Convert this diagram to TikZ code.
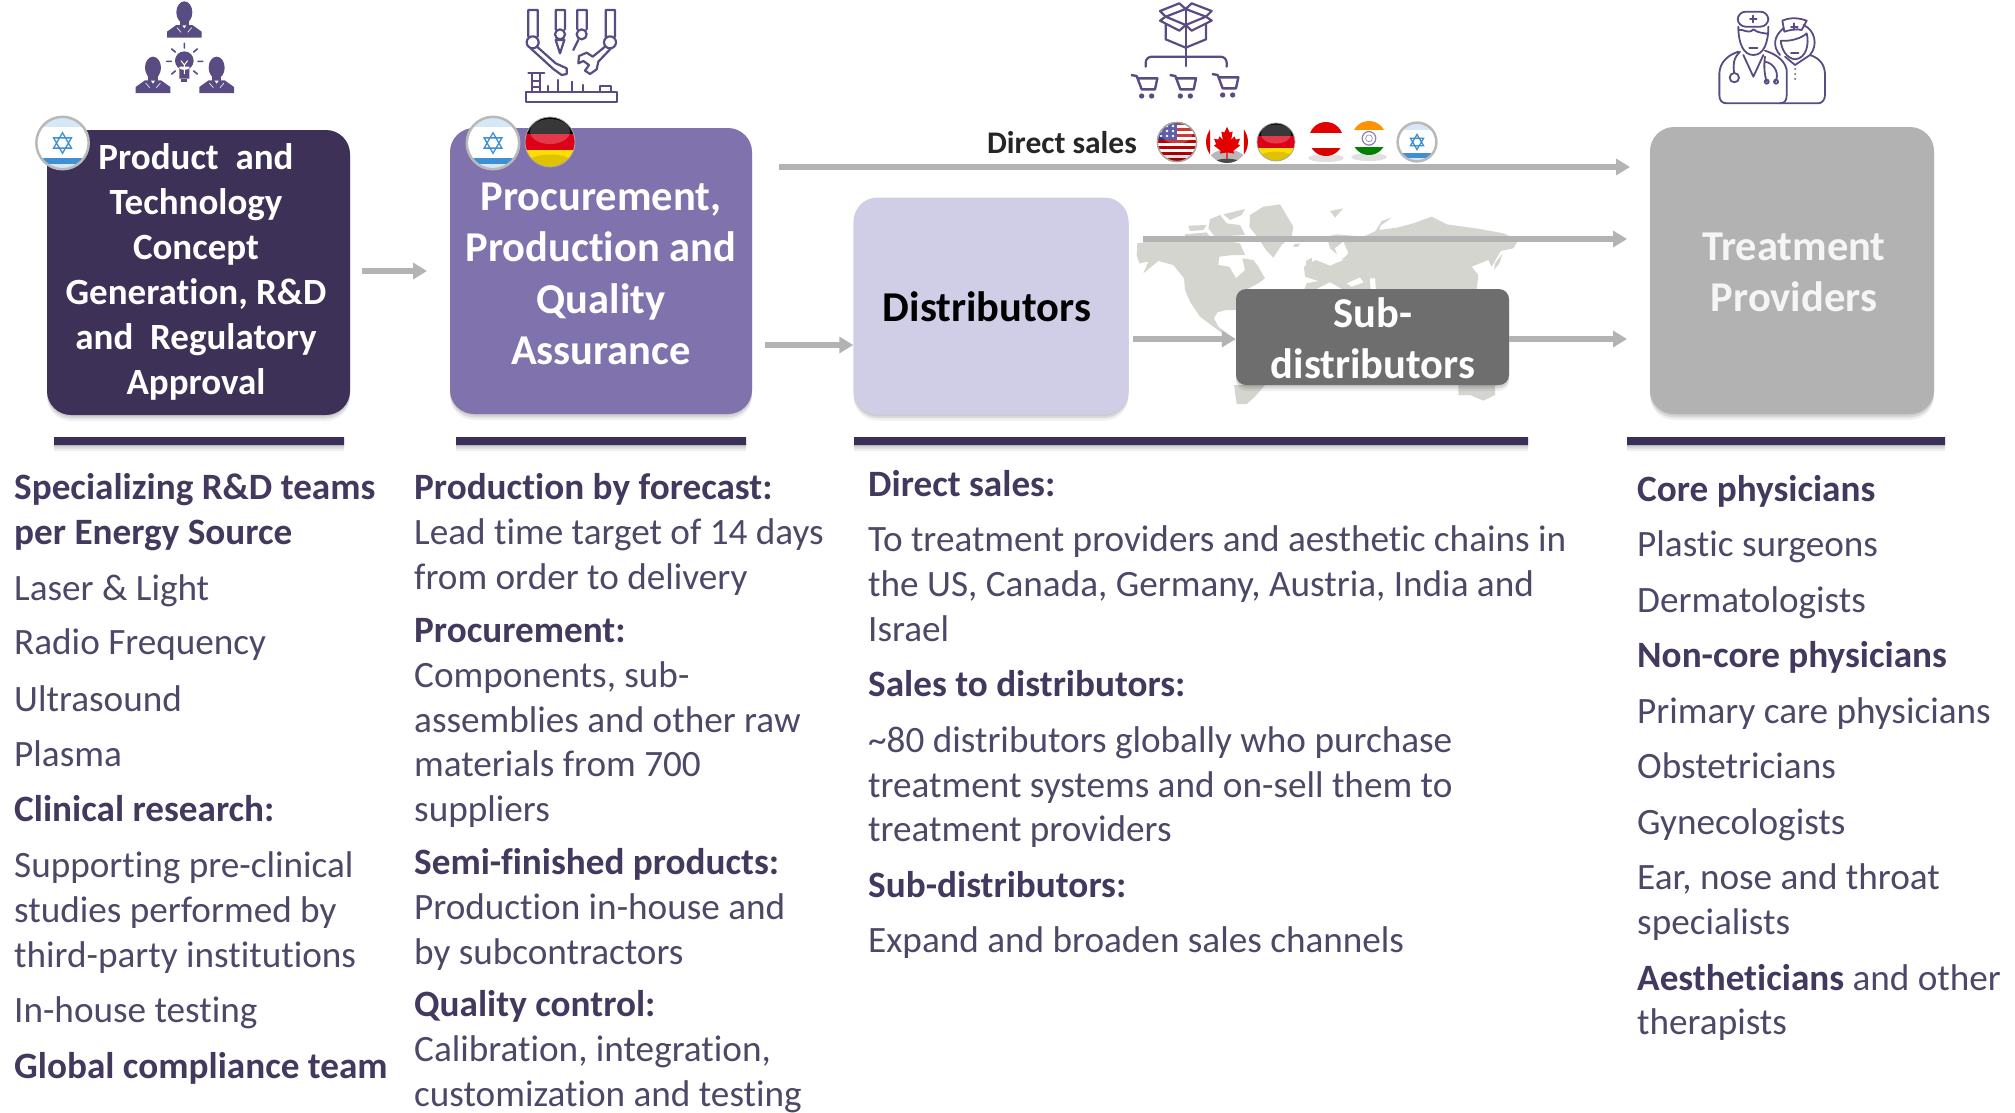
\documentclass[tikz,border=0pt]{standalone}
\usepackage{fontspec}
\setmainfont[Ligatures={NoCommon,TeX}]{Carlito}
\usetikzlibrary{arrows.meta,shadows}
\definecolor{boxa}{HTML}{3E3157}
\definecolor{boxb}{HTML}{8073AD}
\definecolor{boxc}{HTML}{D0CDE6}
\definecolor{boxd}{HTML}{6E6E6E}
\definecolor{boxe}{HTML}{B2B2B2}
\definecolor{barc}{HTML}{3A2F5B}
\definecolor{headc}{HTML}{43395F}
\definecolor{bodyc}{HTML}{4D4868}
\definecolor{iconc}{HTML}{584C82}
\definecolor{mapc}{HTML}{D5D5D0}
\definecolor{arrc}{HTML}{B3B3B3}
\definecolor{ilblue}{HTML}{3F8FD2}
\definecolor{ilpale}{HTML}{D6E8F7}
\newcounter{tl}
\newcommand\tl[3]{\stepcounter{tl}\node[txt] (t\arabic{tl}) at (#1,#2) {#3};}
\newcommand\hd[1]{\textbf{\color{headc}#1}}
\newcommand\gloss{\fill[white,opacity=.22] (0,-.42) ellipse [x radius=.8,y radius=.5];\fill[black,opacity=.12] (0,.85) ellipse [x radius=.9,y radius=.35];}
\newcommand\FlagIL[3]{\begin{scope}[shift={(#1,#2)},x=#3pt,y=-#3pt]
\fill[white] (0,0) circle [radius=1];
\begin{scope}\clip (0,0) circle [radius=1];
\fill[ilpale] (-1,-1) rectangle (1,-.58);
\fill[ilblue] (-1,.55) rectangle (1,.78);
\fill[ilpale] (-1,.78) rectangle (1,1);
\end{scope}
\draw[ilblue,line width=1.3pt] (0,-.38) -- (.33,.19) -- (-.33,.19) -- cycle (0,.38) -- (.33,-.19) -- (-.33,-.19) -- cycle;
\draw[gray!55,line width=2.5pt] (0,0) circle [radius=.97];
\end{scope}}
\newcommand\FlagDE[3]{\begin{scope}[shift={(#1,#2)},x=#3pt,y=-#3pt]
\begin{scope}\clip (0,0) circle [radius=1];
\fill[black] (-1,-1) rectangle (1,-.33);
\fill[red!85!black!90!magenta] (-1,-.33) rectangle (1,.33);
\fill[yellow!80!orange] (-1,.33) rectangle (1,1);
\gloss
\end{scope}
\draw[gray!70,line width=.8pt] (0,0) circle [radius=1];
\end{scope}}
\newcommand\FlagUS[3]{\begin{scope}[shift={(#1,#2)},x=#3pt,y=-#3pt]
\begin{scope}\clip (0,0) circle [radius=1];
\fill[white] (-1,-1) rectangle (1,1);
\foreach \i in {-1,-.7,-.4,-.1,.2,.5,.8}{\fill[red!75!black] (-1,\i) rectangle (1,\i+.15);}
\fill[blue!45!black!80!white] (-1,-1) rectangle (0,-.1);
\foreach \a in {-.8,-.5,-.2}{\foreach \b in {-.8,-.55,-.3}{\fill[white] (\a,\b) circle [radius=.07];}}
\gloss
\end{scope}
\draw[gray!70,line width=1.5pt] (0,0) circle [radius=.98];
\end{scope}}
\newcommand\FlagCA[3]{\begin{scope}[shift={(#1,#2)},x=#3pt,y=-#3pt]
\begin{scope}\clip (0,0) circle [radius=1];
\fill[white] (-1,-1) rectangle (1,1);
\fill[black!55,opacity=.5] (0,1.1) ellipse [x radius=1,y radius=.75];
\fill[red!85!black] (-1,-1) rectangle (-.8,1) (.8,-1) rectangle (1,1);
\fill[red!90!black] (0,-.72) -- (.13,-.45) -- (.27,-.5) -- (.2,-.1) -- (.35,-.27) -- (.42,-.12) -- (.62,-.15) -- (.52,.1) -- (.62,.17) -- (.3,.42) -- (.34,.55) -- (.03,.5) -- (.03,.8) -- (-.03,.8) -- (-.03,.5) -- (-.34,.55) -- (-.3,.42) -- (-.62,.17) -- (-.52,.1) -- (-.62,-.15) -- (-.42,-.12) -- (-.35,-.27) -- (-.2,-.1) -- (-.27,-.5) -- (-.13,-.45) -- cycle;
\fill[black,opacity=.6] (0,1.1) ellipse [x radius=.8,y radius=.3];
\end{scope}
\end{scope}}
\newcommand\FlagAT[3]{\fill[black,opacity=.12] (#1,#2+#3+2) ellipse [x radius=#3*1.05,y radius=4];
\begin{scope}[shift={(#1,#2)},x=#3pt,y=-#3pt]
\begin{scope}\clip (0,0) circle [radius=1];
\fill[red!90!black] (-1,-1) rectangle (1,-.33);
\fill[white] (-1,-.33) rectangle (1,.55);
\fill[red!85!black] (-1,.55) rectangle (1,1);
\end{scope}
\end{scope}}
\newcommand\FlagIN[3]{\fill[black,opacity=.12] (#1,#2+#3+2) ellipse [x radius=#3*1.05,y radius=4];
\begin{scope}[shift={(#1,#2)},x=#3pt,y=-#3pt]
\begin{scope}\clip (0,0) circle [radius=1];
\fill[orange!85!yellow] (-1,-1) rectangle (1,-.5);
\fill[white] (-1,-.5) rectangle (1,.5);
\fill[green!50!black] (-1,.5) rectangle (1,1);
\end{scope}
\draw[iconc!70!white,line width=1.2pt] (0,.02) circle [radius=.4];
\draw[iconc!70!white,line width=.6pt] (0,.02) circle [radius=.2];
\end{scope}}
\newcommand\persona[2]{\begin{scope}[shift={(#1,#2)}]
\fill[iconc] (0,0) ellipse [x radius=24,y radius=33];
\fill[iconc] (-14,15) rectangle (14,45);
\fill[iconc] (-52,76) -- (-52,58) -- (-24,38) -- (24,38) -- (52,58) -- (52,76) -- cycle;
\fill[white] (-6,39) -- (0,48) -- (6,39) -- cycle;
\draw[white,line width=.6pt] (-22,46) -- (-10,60) (22,46) -- (10,60);
\end{scope}}
\newcommand\cart[2]{\begin{scope}[shift={(#1,#2)}]
\draw[iconc,line width=2.4pt,line join=round] (33,225) -- (50,228) -- (65,268) -- (105,268) -- (112,235) -- (56,235);
\fill[iconc] (65,288) circle [radius=8] (95,288) circle [radius=8];
\end{scope}}
\tikzset{
 txt/.style={anchor=base west,inner sep=0pt,text=bodyc,font=\fontsize{37.2}{37}\selectfont},
 softsh/.style={general shadow={shadow xshift=0pt,shadow yshift=-1.5pt,fill=black,opacity=.07},general shadow={shadow xshift=0pt,shadow yshift=-3.5pt,fill=black,opacity=.09},general shadow={shadow xshift=0pt,shadow yshift=-6pt,fill=black,opacity=.06}},
 flow/.style={rounded corners=24pt,softsh,inner sep=0pt,align=center},
 bartop/.style={fill=barc,draw=none,softsh},
 conn/.style={draw=arrc,line width=5.5pt,-{Triangle[length=14pt,width=16pt]},shorten >=0pt},
 lineicon/.style={draw=iconc,line width=2.2pt,line join=round,line cap=round},
}
\begin{document}
\begin{tikzpicture}[x=1pt,y=-1pt]
\useasboundingbox (0,0) rectangle (2015,1112);
% world map
\begin{scope}[shift={(1130,195)},x=.33333pt,y=-.33333pt]
\fill[mapc] (360,60) -- (400,35) -- (450,28) -- (490,95) -- (485,125) -- (455,150) -- (430,188) -- (408,165) -- (385,130) -- (358,95) -- cycle;
\fill[mapc] (280,58) -- (345,42) -- (335,60) -- (300,75) -- cycle (175,92) -- (230,90) -- (220,105) -- (180,108) -- cycle (240,72) -- (270,60) -- (290,85) -- (330,90) -- (345,120) -- (255,125) -- (235,100) -- cycle (165,118) -- (230,112) -- (240,125) -- (165,128) -- cycle;
\fill[mapc] (22,145) -- (120,130) -- (240,130) -- (330,145) -- (345,180) -- (310,180) -- (268,185) -- (265,210) -- (298,215) -- (318,250) -- (345,225) -- (337,190) -- (370,195) -- (385,215) -- (405,250) -- (385,265) -- (350,283) -- (322,300) -- (318,345) -- (290,345) -- (262,352) -- (252,370) -- (265,395) -- (305,425) -- (318,440) -- (270,410) -- (210,365) -- (180,320) -- (165,285) -- (162,250) -- (130,210) -- (85,198) -- (40,235) -- (55,200) -- (28,205) -- (20,180) -- cycle;
\fill[mapc] (600,48) -- (640,40) -- (615,68) -- cycle (735,110) -- (755,78) -- (785,68) -- (752,92) -- (745,112) -- cycle (492,148) -- (510,145) -- (505,155) -- (490,156) -- cycle;
\fill[mapc] (620,118) -- (700,125) -- (745,105) -- (800,98) -- (850,85) -- (905,65) -- (950,88) -- (1050,102) -- (1120,115) -- (1165,135) -- (1150,160) -- (1112,168) -- (1085,215) -- (1075,195) -- (1050,205) -- (1025,215) -- (1045,240) -- (1040,285) -- (1000,290) -- (520,290) -- (530,265) -- (565,258) -- (525,245) -- (522,215) -- (558,195) -- (600,212) -- (640,195) -- (600,160) -- (590,125) -- cycle;
\fill[mapc] (528,198) -- (545,188) -- (552,225) -- (530,235) -- cycle (1095,205) -- (1118,175) -- (1108,205) -- (1092,225) -- cycle;
\fill[white] (615,160) -- (640,140) -- (655,175) -- (640,190) -- (625,190) -- cycle (650,265) -- (690,248) -- (700,262) -- (665,275) -- cycle (720,250) -- (735,250) -- (738,290) -- (722,290) -- cycle (560,282) -- (600,262) -- (640,285) -- cycle;
\fill[mapc] (312,570) -- (405,570) -- (375,605) -- (350,627) -- (320,627) -- cycle (985,570) -- (1095,570) -- (1095,600) -- (1060,617) -- (1020,600) -- (985,600) -- cycle;
\end{scope}
% flow boxes
\node[flow,fill=boxa,minimum width=303pt,minimum height=285pt] (b1) at (198.5,272.5) {};
\node[flow,fill=boxb,minimum width=302pt,minimum height=286pt] (b2) at (601,271) {};
\node[flow,fill=boxc,minimum width=275pt,minimum height=217pt] (b3) at (991,306) {};
\node[flow,fill=boxe,minimum width=284pt,minimum height=287pt] (b5) at (1792,270.5) {};
% connectors
\coordinate (a1s) at (362,271); \coordinate (a1e) at (427,271);
\draw[conn] (a1s) -- (a1e);
\coordinate (a2s) at (765,345);
\draw[conn] (a2s) -- (a2s -| b3.west);
\coordinate (a3s) at (779,167); \coordinate (a3e) at (1630,167);
\draw[conn] (a3s) -- (a3e);
\coordinate (a4s) at (1143,239); \coordinate (a4e) at (1627,239);
\draw[conn] (a4s) -- (a4e);
\node[rounded corners=10pt,fill=boxd,softsh,minimum width=273pt,minimum height=96pt,inner sep=0pt] (b4) at (1372.5,337) {};
\coordinate (a5s) at (1133,339); \coordinate (a5e) at (1627,339);
\draw[conn] (a5s) -- (a5s -| b4.west);
\draw[conn] (a5e -| b4.east) -- (a5e);
% box texts
\node[align=center,text=white,font=\fontsize{37}{45}\bfseries\selectfont] (b1t) at (196,272) {Product~ and\\Technology\\Concept\\Generation, R\&D\\and~ Regulatory\\Approval};
\node[align=center,text=white,font=\fontsize{42.5}{51.3}\bfseries\selectfont] (b2t) at (601,274) {Procurement,\\Production and\\Quality\\Assurance};
\node[font=\fontsize{42.5}{51}\bfseries\selectfont,text=black] (b3t) at (987,307) {Distributors};
\node[align=center,text=white,font=\fontsize{42.5}{51}\bfseries\selectfont] (b4t) at (1373,338) {Sub-\\distributors};
\node[align=center,text=white!92!gray,font=\fontsize{42.5}{51}\bfseries\selectfont] (b5t) at (1794,272) {Treatment\\Providers};
% section bars
\path[bartop] (54,437) rectangle (344,445) (456,437) rectangle (746,445) (854,437) rectangle (1528,445) (1627,437) rectangle (1945,445);
% direct sales
\node[font=\fontsize{31.5}{31}\bfseries\selectfont,text=black!85] (ds) at (1062,143) {Direct sales};
% flags
\FlagIL{62.5}{143}{27}
\FlagIL{493}{143}{27}
\FlagDE{550}{142}{25}
\FlagUS{1177}{142}{20}
\FlagCA{1227}{142}{21}
\FlagDE{1276}{142}{19}
\FlagAT{1326}{139}{17}
\FlagIN{1369}{138}{17}
\FlagIL{1417}{142}{20}
% icon 1
\begin{scope}[shift={(120,0)},x=.33333pt,y=-.33333pt]
\persona{193}{37}
\persona{99}{203}
\persona{290}{203}
\fill[iconc] (193,182) circle [radius=28] (178,200) rectangle (208,236);
\fill[iconc] (184,236) rectangle (202,246);
\draw[white,line width=1pt] (183,182) -- (193,195) -- (203,182) (193,195) -- (193,222);
\draw[iconc,line width=1.6pt,line cap=round] (193,130) -- (193,144) (155,147) -- (166,156) (232,147) -- (221,156) (140,184) -- (154,184) (234,184) -- (248,184) (155,222) -- (166,213) (232,222) -- (221,213);
\end{scope}
% icon 2
\begin{scope}[shift={(515,0)},x=.33333pt,y=-.33333pt]
\path[lineicon] (40,110) -- (40,30) -- (68,30) -- (68,110) (53,127) circle [radius=18];
\path[lineicon] (122,88) -- (122,30) -- (150,30) -- (150,88) (135,103) circle [radius=15];
\path[lineicon] (187,88) -- (187,30) -- (215,30) -- (215,88) (200,103) circle [radius=15];
\path[lineicon] (272,110) -- (272,30) -- (300,30) -- (300,110) (285,127) circle [radius=18];
\path[lineicon] (66,140) -- (122,190) -- (155,205) -- (155,222) -- (140,225) -- (115,207) -- (47,145);
\path[lineicon] (122,120) -- (148,120) -- (135,160) -- cycle;
\path[lineicon] (190,120) -- (175,150);
\path[lineicon] (270,140) -- (233,170) -- (215,158) -- (192,168) -- (190,190) -- (205,183) -- (222,195) -- (210,212) -- (225,222) -- (245,208) -- (250,185) -- (287,146);
\path[lineicon] (33,275) rectangle (305,307);
\path[lineicon] (255,275) -- (255,258) -- (287,258) -- (287,275);
\path[lineicon] (100,258) -- (100,275) (130,240) -- (130,275) (172,245) -- (172,275) (203,255) -- (203,275);
\path[lineicon] (40,218) -- (88,218) (52,220) -- (52,275) (75,220) -- (75,275) (52,243) -- (75,243) (52,260) -- (75,260);
\end{scope}
% icon 3
\begin{scope}[shift={(1120,0)},x=.33333pt,y=-.33333pt]
\path[lineicon] (137,72) -- (137,118) -- (197,143) -- (258,118) -- (258,72);
\path[lineicon] (197,27) -- (197,198);
\path[lineicon] (137,50) -- (120,33) -- (178,10) -- (197,27) -- (215,10) -- (275,33) -- (258,50) -- (197,27) -- (137,50) -- (197,75) -- (258,50);
\path[lineicon] (137,50) -- (120,62) -- (178,92) -- (197,75) -- (215,92) -- (275,62) -- (258,50);
\path[lineicon,rounded corners=6pt] (77,200) -- (77,170) -- (320,170) -- (320,200);
\cart{0}{0}
\cart{116}{0}
\cart{243}{-3}
\end{scope}
% icon 4
\begin{scope}[shift={(1650,0)},x=.33333pt,y=-.33333pt,lineicon/.append style={line width=1.8pt}]
\path[lineicon,rounded corners=8pt] (263,80) -- (263,35) -- (355,35) -- (355,80) -- cycle;
\path[lineicon] (300,57) -- (320,57) (310,47) -- (310,67);
\path[lineicon] (265,80) .. controls (265,130) and (280,165) .. (310,165) .. controls (340,165) and (355,130) .. (355,80);
\path[lineicon] (265,90) .. controls (280,85) and (295,105) .. (310,88) .. controls (325,100) and (340,98) .. (355,102);
\path[lineicon] (298,145) -- (322,145);
\path[lineicon] (265,155) .. controls (235,165) and (210,185) .. (208,220) -- (208,285) .. controls (208,300) and (215,310) .. (230,310) -- (390,310) .. controls (405,310) and (410,300) .. (410,285) -- (410,210) .. controls (405,185) and (385,165) .. (345,152);
\path[lineicon] (280,165) -- (310,230) -- (340,165);
\path[lineicon] (270,155) .. controls (250,175) and (248,195) .. (253,220) (253,233) circle [radius=14];
\path[lineicon] (345,170) .. controls (340,200) and (345,230) .. (350,245) (375,245) .. controls (390,225) and (375,190) .. (345,185);
\path[lineicon] (350,245) circle [radius=6] (378,245) circle [radius=6];
\path[lineicon] (397,62) .. controls (425,50) and (450,55) .. (470,62) -- (455,90) .. controls (440,85) and (420,90) .. (403,95) -- cycle;
\path[lineicon] (423,80) -- (443,80) (433,70) -- (433,90);
\path[lineicon] (400,85) .. controls (370,110) and (368,140) .. (390,165);
\path[lineicon] (460,75) .. controls (495,90) and (505,135) .. (480,165);
\path[lineicon] (392,122) .. controls (420,125) and (455,115) .. (470,100) .. controls (478,130) and (470,175) .. (435,178) .. controls (410,175) and (395,150) .. (392,122);
\path[lineicon] (423,160) -- (445,160);
\path[lineicon] (405,170) -- (435,195) -- (480,165) .. controls (510,175) and (525,195) .. (525,225) -- (525,285) .. controls (525,300) and (515,310) .. (505,310) -- (390,310);
\fill[iconc] (435,207) circle [radius=3] (435,222) circle [radius=3] (435,237) circle [radius=3];
\end{scope}
% column 1
\tl{14}{499}{\hd{Specializing R\&D teams}}
\tl{14}{544}{\hd{per Energy Source}}
\tl{14}{600}{Laser \& Light}
\tl{14}{654}{Radio Frequency}
\tl{14}{711}{Ultrasound}
\tl{14}{766}{Plasma}
\tl{14}{821}{\hd{Clinical research:}}
\tl{14}{877}{Supporting pre-clinical}
\tl{14}{922}{studies performed by}
\tl{14}{967}{third-party institutions}
\tl{14}{1022}{In-house testing}
\tl{14}{1078}{\hd{Global compliance team}}
% column 2
\tl{414}{499}{\hd{Production by forecast:}}
\tl{414}{544}{Lead time target of 14 days}
\tl{414}{589}{from order to delivery}
\tl{414}{642}{\hd{Procurement:}}
\tl{414}{687}{Components, sub-}
\tl{414}{732}{assemblies and other raw}
\tl{414}{776}{materials from 700}
\tl{414}{821}{suppliers}
\tl{414}{874}{\hd{Semi-finished products:}}
\tl{414}{919}{Production in-house and}
\tl{414}{964}{by subcontractors}
\tl{414}{1016}{\hd{Quality control:}}
\tl{414}{1061}{Calibration, integration,}
\tl{414}{1106}{customization and testing}
% column 3
\tl{868}{496}{\hd{Direct sales:}}
\tl{868}{551}{To treatment providers and aesthetic chains in}
\tl{868}{596}{the US, Canada, Germany, Austria, India and}
\tl{868}{641}{Israel}
\tl{868}{696}{\hd{Sales to distributors:}}
\tl{868}{752}{\textasciitilde 80 distributors globally who purchase}
\tl{868}{797}{treatment systems and on-sell them to}
\tl{868}{841}{treatment providers}
\tl{868}{897}{\hd{Sub-distributors:}}
\tl{868}{952}{Expand and broaden sales channels}
% column 4
\tl{1637}{501}{\hd{Core physicians}}
\tl{1637}{556}{Plastic surgeons}
\tl{1637}{612}{Dermatologists}
\tl{1637}{667}{\hd{Non-core physicians}}
\tl{1637}{723}{Primary care physicians}
\tl{1637}{778}{Obstetricians}
\tl{1637}{834}{Gynecologists}
\tl{1637}{889}{Ear, nose and throat}
\tl{1637}{934}{specialists}
\tl{1637}{990}{\hd{Aestheticians} and other}
\tl{1637}{1034}{therapists}
\end{tikzpicture}
\end{document}
